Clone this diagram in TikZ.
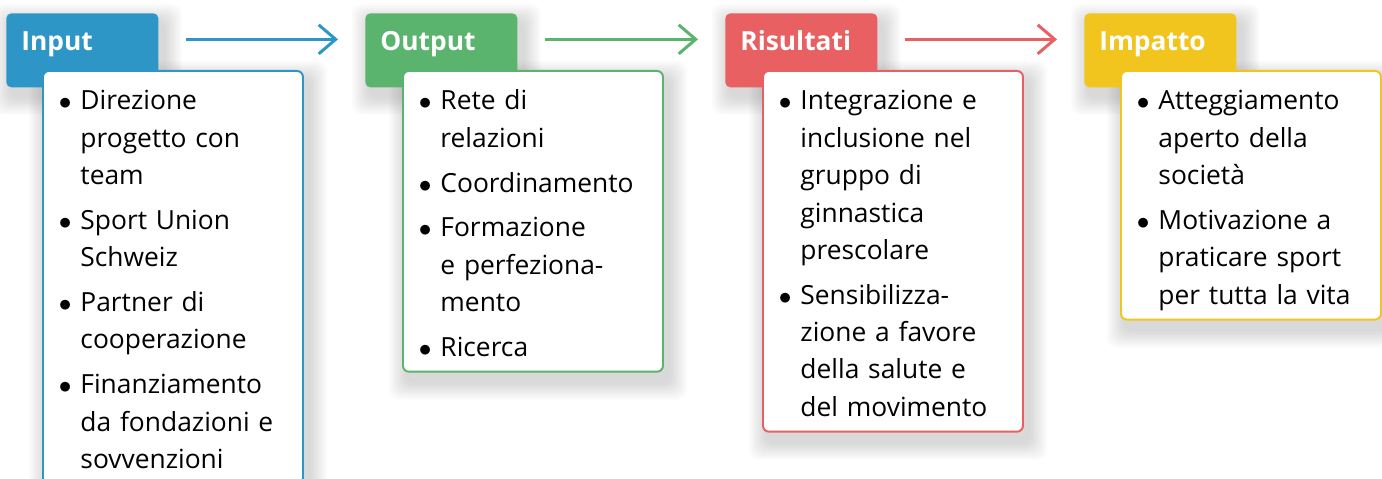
\documentclass[tikz,border=0pt]{standalone}
\usepackage{fontspec}
\setmainfont{Open Sans}
\usetikzlibrary{arrows.meta}
\definecolor{inputblue}{HTML}{2E96C6}
\definecolor{outputgreen}{HTML}{5AB46E}
\definecolor{resultred}{HTML}{E96062}
\definecolor{impactyellow}{HTML}{F1C41E}
\pgfdeclarelayer{background}
\pgfsetlayers{background,main}
\newcommand{\gap}{\\[4.2pt]}
\newcommand{\blt}{$\bullet$}
% list box with fixed top and bottom padding
\newcommand{\bulletlist}[1]{\raisebox{0pt}[22.2pt][\dimexpr\depth+2.4pt\relax]{%
	\begin{tabular}[t]{@{}p{4.3mm}@{}l@{}}#1\end{tabular}}}

\begin{document}
\begin{tikzpicture}[
		x=0.2mm, y=-0.2mm,
		font=\fontsize{15pt}{21.26pt}\selectfont,
		head/.style={fill=#1, text=white, font=\fontsize{15pt}{18pt}\selectfont\bfseries,
			rounded corners=1mm, anchor=north west, inner xsep=3mm, inner ysep=0pt,
			text width=24.4mm, text height=7.4mm, text depth=7.4mm, align=left},
		body/.style={draw=#1, fill=white, line width=1.1pt, rounded corners=1.2mm,
			anchor=north west, inner xsep=3.2mm, inner ysep=0pt,
			text width=45.6mm, align=left},
		flow/.style={draw=#1, line width=1.7pt,
			-{Straight Barb[length=3.4mm, width=5.8mm]}},
	]
		\useasboundingbox (0,0) rectangle (1382,479);
		\clip (0,0) rectangle (1382,479);

		% headers
		\node[head=inputblue] (inhead) at (6,13) {Input};
		\node[head=outputgreen] (outhead) at (365,13) {Output};
		\node[head=resultred] (reshead) at (725,13) {Risultati};
		\node[head=impactyellow] (imphead) at (1084,13) {Impatto};

		% lists
		\node[body=inputblue] (inbody) at (42,70) {\bulletlist{%
				\blt & Direzione\\
				& progetto con\\
				& team\gap
				\blt & Sport Union\\
				& Schweiz\gap
				\blt & Partner di\\
				& cooperazione\gap
				\blt & Finanziamento\\
				& da fondazioni e\\
				& sovvenzioni}};
		\node[body=outputgreen] (outbody) at (402,70) {\bulletlist{%
				\blt & Rete di\\
				& relazioni\gap
				\blt & Coordinamento\gap
				\blt & Formazione\\
				& e perfeziona-\\
				& mento\gap
				\blt & Ricerca}};
		\node[body=resultred] (resbody) at (762,70) {\bulletlist{%
				\blt & Integrazione e\\
				& inclusione nel\\
				& gruppo di\\
				& ginnastica\\
				& prescolare\gap
				\blt & Sensibilizza-\\
				& zione a favore\\
				& della salute e\\
				& del movimento}};
		\node[body=impactyellow] (impbody) at (1120,70) {\bulletlist{%
				\blt & Atteggiamento\\
				& aperto della\\
				& società\gap
				\blt & Motivazione a\\
				& praticare sport\\
				& per tutta la vita}};

		% flow
		\draw[flow=inputblue] ([shift={(27,-11)}]inhead.east) -- ([shift={(-27,-11)}]outhead.west);
		\draw[flow=outputgreen] ([shift={(27,-11)}]outhead.east) -- ([shift={(-27,-11)}]reshead.west);
		\draw[flow=resultred] ([shift={(27,-11)}]reshead.east) -- ([shift={(-27,-11)}]imphead.west);

		% soft shadows
		\begin{pgfonlayer}{background}
			\foreach \n in {inhead,inbody,outhead,outbody,reshead,resbody,imphead,impbody}
				\foreach \i in {1,...,10}
					\fill[black, opacity=0.015, rounded corners=2mm]
						([shift={(5-1.8*\i,9-1.8*\i)}]\n.north west) rectangle
						([shift={(5+1.8*\i,9+1.8*\i)}]\n.south east);
		\end{pgfonlayer}
	\end{tikzpicture}
\end{document}
